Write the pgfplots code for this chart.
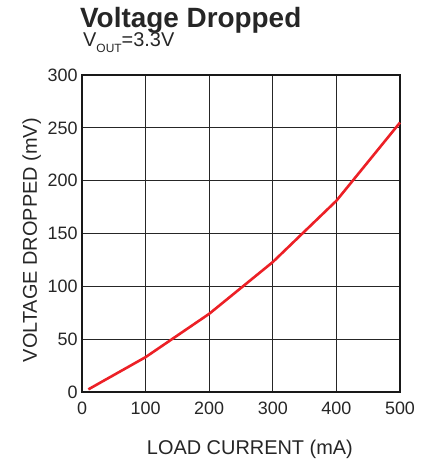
\documentclass[border=0pt]{standalone}
\usepackage{fontspec}
\setmainfont{Liberation Sans}
\usepackage{pgfplots}
\pgfplotsset{compat=1.18}
\definecolor{curvered}{RGB}{236,32,38}
\begin{document}
\begin{tikzpicture}
\begin{axis}[
  scale only axis,
  width=318bp, height=317bp,
  xmin=0, xmax=500, ymin=0, ymax=300,
  xtick={0,100,...,500}, ytick={0,50,...,300},
  grid=major,
  major grid style={black!85, line width=0.9bp},
  axis line style={black!90, line width=2bp},
  major tick length=0pt,
  /pgf/number format/assume math mode=true,
  ticklabel style={font=\fontsize{18}{20}\selectfont, text=black!85},
  xticklabel style={yshift=-6bp},
  yticklabel style={xshift=-1bp},
  xlabel={LOAD CURRENT (mA)},
  ylabel={VOLTAGE DROPPED (mV)},
  label style={font=\fontsize{20}{22}\selectfont, text=black!85},
  xlabel style={at={(rel axis cs:0.528,0)}, anchor=base, yshift=-62bp},
  ylabel style={at={(rel axis cs:0,0.479)}, anchor=base, yshift=45bp},
  clip=false,
]
\addplot[curvered, line width=2.6bp] coordinates {
  (10,2.5) (100,33) (200,74) (300,123) (400,181) (500,255)
};
\coordinate (sw) at (rel axis cs:0,0);
\end{axis}
\node[anchor=base west, inner sep=0pt, font=\fontsize{28}{30}\selectfont\bfseries, text=black!85] at ([shift={(-2bp,364bp)}]sw) {Voltage Dropped};
\node[anchor=base west, inner sep=0pt, font=\fontsize{20}{22}\selectfont, text=black!85] at ([shift={(1bp,345bp)}]sw) {V\raisebox{-0.3em}{\fontsize{12}{13}\selectfont OUT}=3.3V};
\pgfresetboundingbox
\path[use as bounding box] ([shift={(-82bp,-70bp)}]sw) rectangle ([shift={(345bp,392bp)}]sw);
\end{tikzpicture}
\end{document}
